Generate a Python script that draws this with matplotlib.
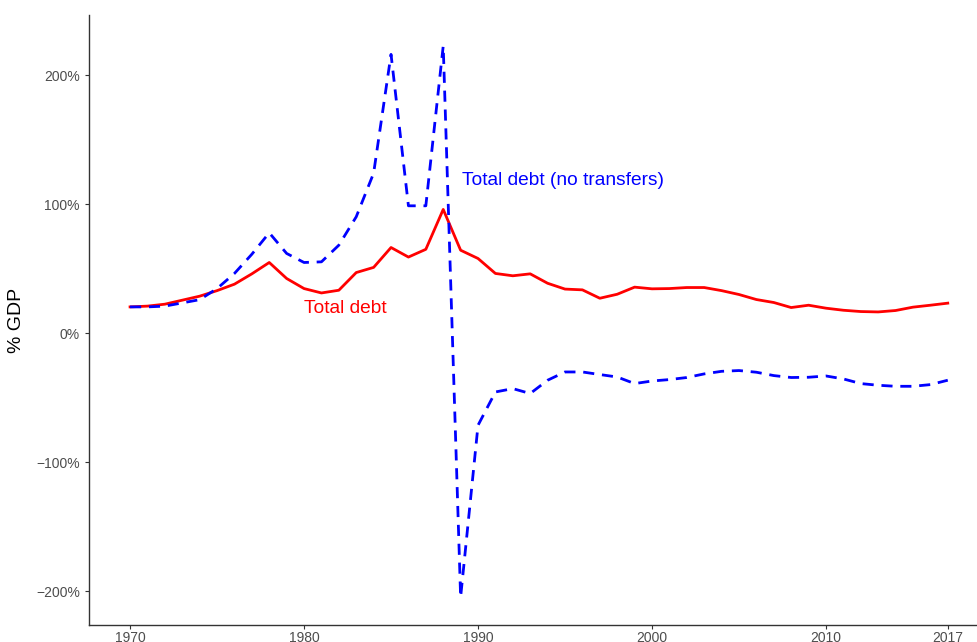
import matplotlib
matplotlib.use("Agg")
import matplotlib.pyplot as plt
from matplotlib.ticker import FuncFormatter

plt.rcParams['font.family'] = ['Liberation Sans', 'DejaVu Sans']

years = list(range(1970, 2018))

# debt as % of GDP
total_debt = [20.4, 21.0, 22.5, 25.6, 28.7, 33.0, 38.0, 46.0, 54.8, 42.4,
              34.6, 31.2, 33.3, 47.0, 51.0, 66.4, 59.0, 65.0, 95.9, 64.3,
              57.9, 46.3, 44.5, 46.0, 38.7, 34.2, 33.6, 27.1, 30.2, 35.7,
              34.4, 34.6, 35.4, 35.4, 33.0, 30.0, 26.1, 23.8, 19.9, 21.7,
              19.4, 17.8, 16.8, 16.5, 17.6, 20.2, 21.7, 23.3]
no_transfers = [20.4, 20.4, 21.0, 23.5, 26.0, 34.6, 46.3, 61.2, 77.8, 61.8,
                54.8, 55.3, 68.2, 90.2, 124.0, 216.0, 98.7, 98.7, 222.5, -204.4,
                -71.3, -45.5, -42.9, -46.7, -36.4, -30.0, -30.0, -32.0, -33.9, -39.0,
                -37.0, -35.9, -34.3, -31.5, -29.5, -28.9, -30.2, -32.8, -34.3, -34.1,
                -33.1, -35.4, -39.0, -40.3, -41.1, -41.1, -39.8, -36.4]

x_ticks = [1970, 1980, 1990, 2000, 2010, 2017]
y_ticks = [-200, -100, 0, 100, 200]

fig = plt.figure(figsize=(9.77, 6.42), dpi=100)
ax = fig.add_axes([89 / 977, 17 / 642, 888 / 977, 610 / 642])

ax.plot(years, total_debt, color='#ff0000', lw=2)
blue, = ax.plot(years, no_transfers, color='#0000ff', lw=2)
blue.set_dashes([4, 2.8])

ax.text(1982.4, 19.4, 'Total debt', color='#ff0000', fontsize=13.8,
        ha='center', va='center')
ax.text(1994.9, 118.6, 'Total debt (no transfers)', color='#0000ff', fontsize=13.8,
        ha='center', va='center')

ax.set_xlim(1967.64, 2018.68)
ax.set_ylim(-226.0, 246.5)
ax.set_xticks(x_ticks)
ax.set_yticks(y_ticks)
ax.yaxis.set_major_formatter(FuncFormatter(
    lambda v, p: f"{int(v)}%".replace('-', '\u2212')))
ax.set_ylabel('% GDP', fontsize=14, color='black', labelpad=8)

for side in ['top', 'right']:
    ax.spines[side].set_visible(False)
for side in ['left', 'bottom']:
    ax.spines[side].set_color('#333333')
    ax.spines[side].set_linewidth(1.0)
ax.tick_params(colors='#333333', length=3, width=0.8, labelsize=10,
               labelcolor='#4d4d4d')
ax.tick_params(axis='y', pad=3.5)
ax.tick_params(axis='x', pad=1.5)

fig.savefig('out.png', dpi=100)
